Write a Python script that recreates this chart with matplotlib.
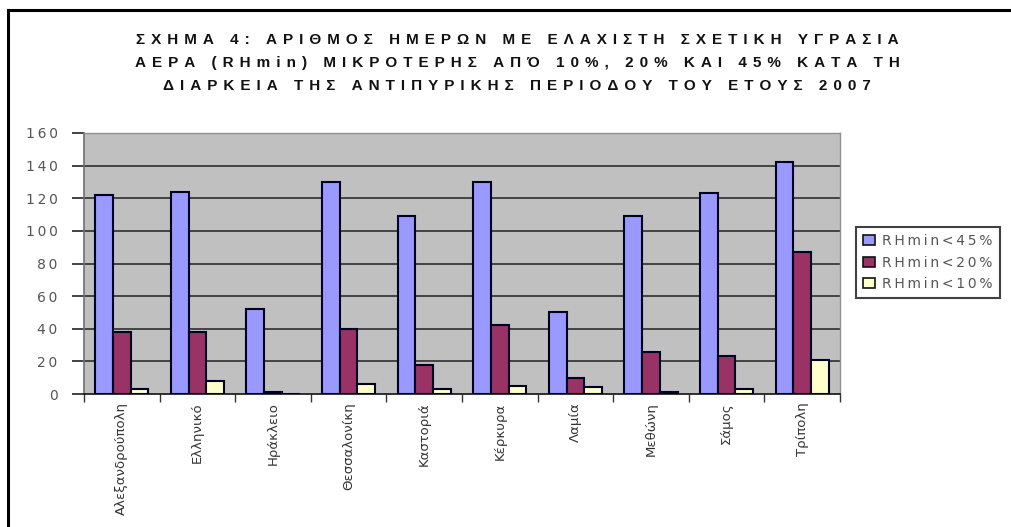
import numpy as np
import matplotlib.pyplot as plt
from matplotlib.lines import Line2D

# Days with minimum relative humidity below each threshold, fire season 2007
stations = ['Αλεξανδρούπολη', 'Ελληνικό', 'Ηράκλειο', 'Θεσσαλονίκη', 'Καστοριά',
            'Κέρκυρα', 'Λαμία', 'Μεθώνη', 'Σάμος', 'Τρίπολη']
rh45 = [122, 124, 52, 130, 109, 130, 50, 109, 123, 142]
rh20 = [38, 38, 1, 40, 18, 42, 10, 26, 23, 87]
rh10 = [3, 8, 0, 6, 3, 5, 4, 1, 3, 21]
series_labels = ['RHmin<45%', 'RHmin<20%', 'RHmin<10%']
yticks = [0, 20, 40, 60, 80, 100, 120, 140, 160]

title_lines = ['ΣΧΗΜΑ 4: ΑΡΙΘΜΟΣ ΗΜΕΡΩΝ ΜΕ ΕΛΑΧΙΣΤΗ ΣΧΕΤΙΚΗ ΥΓΡΑΣΙΑ',
               'ΑΕΡΑ (RHmin) ΜΙΚΡΟΤΕΡΗΣ ΑΠΌ 10%, 20% ΚΑΙ 45% ΚΑΤΑ ΤΗ',
               'ΔΙΑΡΚΕΙΑ ΤΗΣ ΑΝΤΙΠΥΡΙΚΗΣ ΠΕΡΙΟΔΟΥ ΤΟΥ ΕΤΟΥΣ 2007']

colors = ['#9999FF', '#993366', '#FFFFCC']


def spaced(s, sep='\u2009'):
    return sep.join(s)


fig = plt.figure(figsize=(10.11, 5.27), dpi=100)
fig.patch.set_facecolor('white')

ax = fig.add_axes([84 / 1011, 1 - 394 / 527, 756 / 1011, 261 / 527])
ax.set_facecolor('#C0C0C0')

x = np.arange(len(stations))
w = 0.235
for i, (vals, c) in enumerate(zip([rh45, rh20, rh10], colors)):
    ax.bar(x + (i - 1) * w, vals, width=w, color=c, edgecolor='#000020',
           linewidth=1.5, zorder=3, label=series_labels[i])

ax.set_xlim(-0.5, len(stations) - 0.5)
ax.set_ylim(0, 160)
ax.set_yticks(yticks)
ax.set_yticklabels([spaced(str(v)) for v in yticks], color='#555555',
                   fontsize=10, family='DejaVu Sans')
for v in yticks[1:-1]:
    ax.axhline(v, color='#222222', linewidth=1.1, zorder=1)

ax.set_xticks(x)
ax.set_xticklabels(stations, rotation=90, fontsize=9.5, color='#333333')
ax.set_xticks(np.arange(-0.5, len(stations)), minor=True)
ax.tick_params(axis='x', which='major', length=0, pad=6)
ax.tick_params(axis='x', which='minor', length=6, width=1, color='#333333',
               direction='out')
ax.tick_params(axis='y', length=9, width=1.2, color='#222222', pad=10)

for side in ['top', 'right']:
    ax.spines[side].set_color('#909090')
    ax.spines[side].set_linewidth(1)
ax.spines['left'].set_color('#707070')
ax.spines['left'].set_linewidth(1.2)
ax.spines['bottom'].set_color('#111111')
ax.spines['bottom'].set_linewidth(1.2)

# title
for k, line in enumerate(title_lines):
    fig.text(517 / 1011, 1 - (40 + 23 * k) / 527, spaced(line, '\u2009\u2009'),
             ha='center', va='center', fontsize=11, fontweight='bold',
             family=['Liberation Sans', 'DejaVu Sans'], color='#111111')

# legend
handles = [plt.Rectangle((0, 0), 1, 1, facecolor=c, edgecolor='#111111',
                         linewidth=1.2) for c in colors]
leg = fig.legend(handles, [spaced(s) for s in series_labels],
                 loc='upper left', bbox_to_anchor=(856 / 1011, 1 - 227 / 527),
                 frameon=True, fancybox=False, shadow=False,
                 prop={'size': 10, 'family': 'DejaVu Sans'},
                 handlelength=0.9, handleheight=0.7, handletextpad=0.5,
                 labelspacing=0.55, borderpad=0.5, borderaxespad=0)
leg.get_frame().set_edgecolor('#111111')
leg.get_frame().set_linewidth(1.5)
for t in leg.get_texts():
    t.set_color('#555555')

# outer frame
fig.add_artist(Line2D([8 / 1011, 8 / 1011], [-0.02, 1 - 10 / 527],
                      transform=fig.transFigure, color='black', linewidth=2.2))
fig.add_artist(Line2D([8 / 1011, 1.02], [1 - 10 / 527, 1 - 10 / 527],
                      transform=fig.transFigure, color='black', linewidth=2.2))

fig.savefig('out.png', dpi=100)
